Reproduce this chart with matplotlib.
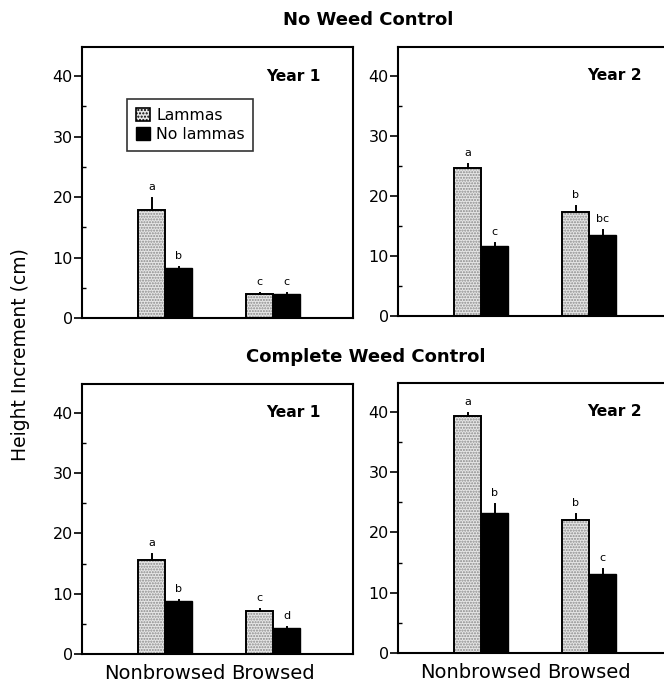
import numpy as np
import matplotlib
matplotlib.use("Agg")
import matplotlib.pyplot as plt
from matplotlib.patches import Patch

plt.rcParams['font.family'] = ['DejaVu Sans']

groups = ["Nonbrowsed", "Browsed"]

# No weed control
nw1_lam = [17.8, 3.9]
nw1_lam_err = [2.1, 0.3]
nw1_no = [8.2, 4.0]
nw1_no_err = [0.2, 0.2]
nw1_let_lam = ["a", "c"]
nw1_let_no = ["b", "c"]

nw2_lam = [24.6, 17.3]
nw2_lam_err = [0.7, 1.1]
nw2_no = [11.6, 13.5]
nw2_no_err = [0.6, 0.8]
nw2_let_lam = ["a", "b"]
nw2_let_no = ["c", "bc"]

# Complete weed control
cw1_lam = [15.6, 7.1]
cw1_lam_err = [1.0, 0.3]
cw1_no = [8.8, 4.3]
cw1_no_err = [0.2, 0.1]
cw1_let_lam = ["a", "c"]
cw1_let_no = ["b", "d"]

cw2_lam = [39.3, 22.1]
cw2_lam_err = [0.5, 1.0]
cw2_no = [23.3, 13.1]
cw2_no_err = [1.5, 0.9]
cw2_let_lam = ["a", "b"]
cw2_let_no = ["b", "c"]

W, H = 664, 685
fig = plt.figure(figsize=(W / 100, H / 100), dpi=100)


def px_axes(left, top, right, bottom):
    return fig.add_axes([left / W, (H - bottom) / H, (right - left) / W, (bottom - top) / H])


def panel(ax, lam, lam_err, no, no_err, let_lam, let_no, year, year_x, xlabels):
    x = np.arange(1, len(lam) + 1)
    bw = 0.25
    # stippled bars
    ax.bar(x - bw / 2, lam, bw, color='#e6e6e6', hatch='......', edgecolor='#8a8a8a', lw=0, zorder=2)
    ax.bar(x - bw / 2, lam, bw, fill=False, edgecolor='black', lw=1.4, zorder=3)
    ax.bar(x + bw / 2, no, bw, color='black', edgecolor='black', lw=1.0, zorder=3)
    for xi, v, e, t in zip(x - bw / 2, lam, lam_err, let_lam):
        ax.plot([xi, xi], [v, v + e], color='black', lw=1.4, zorder=4)
        ax.text(xi, v + e + 1.0, t, ha='center', va='bottom', fontsize=8)
    for xi, v, e, t in zip(x + bw / 2, no, no_err, let_no):
        ax.plot([xi, xi], [v, v + e], color='black', lw=1.4, zorder=4)
        ax.text(xi, v + e + 1.0, t, ha='center', va='bottom', fontsize=8)
    ax.set_xlim(0.231, 2.74)
    ax.set_ylim(0, 44.8)
    ax.set_yticks([0, 10, 20, 30, 40])
    ax.set_yticks([5, 15, 25, 35], minor=True)
    ax.tick_params(axis='y', which='major', direction='out', length=6, width=1.2, labelsize=11.5, pad=0.5)
    ax.tick_params(axis='y', which='minor', direction='in', length=3, width=1)
    if xlabels:
        ax.set_xticks(x)
        ax.set_xticklabels(groups, fontsize=14)
        ax.tick_params(axis='x', length=0, pad=7)
    else:
        ax.set_xticks([])
    for s in ax.spines.values():
        s.set_linewidth(1.5)
    ax.text(year_x, 40, year, ha='center', va='center', fontsize=11.2, fontweight='bold')


ax1 = px_axes(82, 47, 353, 318)
ax2 = px_axes(398, 47, 669, 316)
ax3 = px_axes(82, 384, 353, 654)
ax4 = px_axes(398, 383, 669, 653)

panel(ax1, nw1_lam, nw1_lam_err, nw1_no, nw1_no_err, nw1_let_lam, nw1_let_no, "Year 1", 2.185, False)
panel(ax2, nw2_lam, nw2_lam_err, nw2_no, nw2_no_err, nw2_let_lam, nw2_let_no, "Year 2", 2.24, False)
panel(ax3, cw1_lam, cw1_lam_err, cw1_no, cw1_no_err, cw1_let_lam, cw1_let_no, "Year 1", 2.185, True)
panel(ax4, cw2_lam, cw2_lam_err, cw2_no, cw2_no_err, cw2_let_lam, cw2_let_no, "Year 2", 2.24, True)

handles = [Patch(facecolor='#e6e6e6', hatch='.....', edgecolor='black', lw=1.2, label='Lammas'),
           Patch(facecolor='black', edgecolor='black', label='No lammas')]
leg = ax1.legend(handles=handles, loc='upper left', bbox_to_anchor=(0.166, 0.808), fontsize=11.3,
                 frameon=True, fancybox=False, edgecolor='black', handlelength=0.9, handleheight=0.9,
                 handletextpad=0.4, borderpad=0.55, labelspacing=0.3, borderaxespad=0)
leg.get_frame().set_linewidth(1.2)

fig.text(368 / W, 1 - 20 / H, "No Weed Control", ha='center', va='center', fontsize=13, fontweight='bold')
fig.text(366 / W, 1 - 357 / H, "Complete Weed Control", ha='center', va='center', fontsize=13, fontweight='bold')
fig.text(21 / W, 1 - 355 / H, "Height Increment (cm)", rotation=90, ha='center', va='center', fontsize=13.5)

fig.savefig("out.png", dpi=100)
